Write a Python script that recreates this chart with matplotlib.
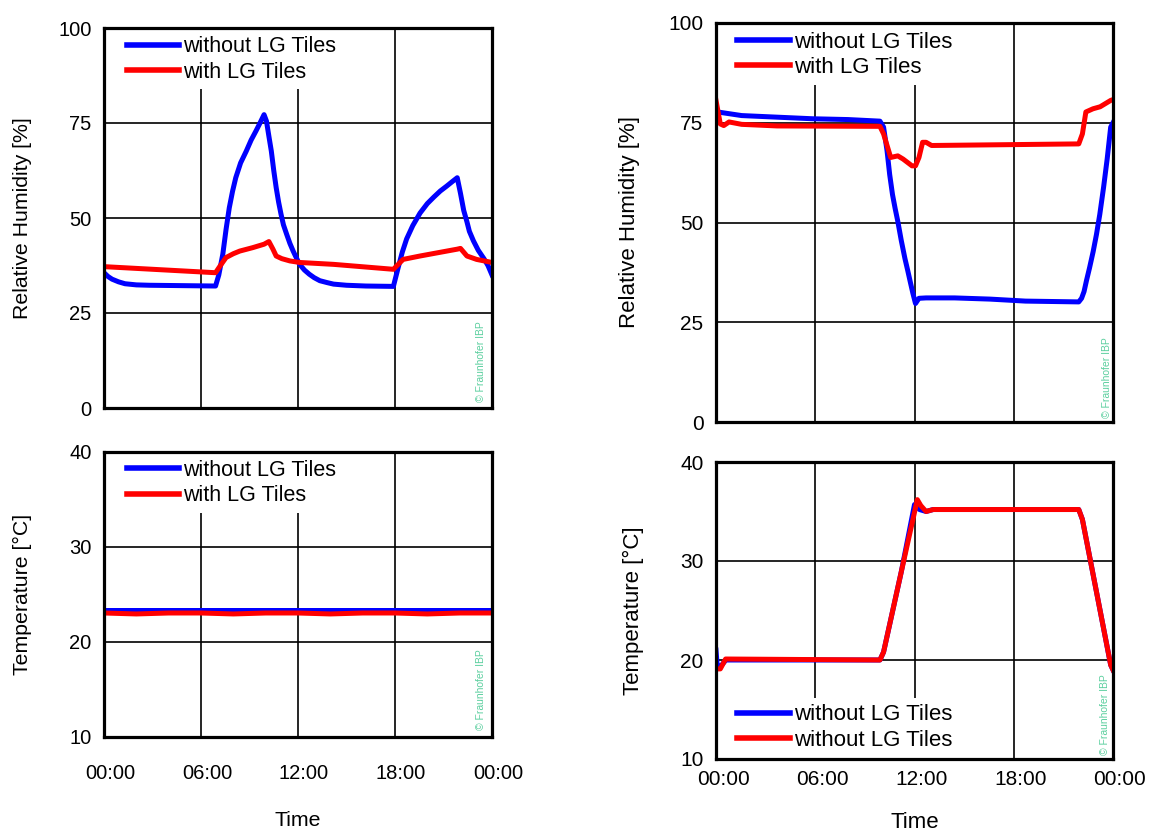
import matplotlib
matplotlib.use("Agg")
import matplotlib.pyplot as plt
from matplotlib.transforms import ScaledTranslation

plt.rcParams['font.family'] = ['Liberation Sans', 'DejaVu Sans']

# ---------------- data (hours of day) ----------------
time_ticks = [0, 6, 12, 18, 24]
time_labels = ["00:00", "06:00", "12:00", "18:00", "00:00"]

# Left: relative humidity
rh_left_without_t = [0, 0.25, 0.5, 0.9, 1.3, 2.0, 2.8, 6.9, 7.1, 7.35, 7.55, 7.75, 7.95, 8.15,
                     8.45, 8.8, 9.1, 9.4, 9.65, 9.9, 10.05, 10.2, 10.35, 10.5, 10.65, 10.8,
                     10.95, 11.1, 11.3, 11.5, 11.7, 11.9, 12.1, 12.4, 12.7, 13.0, 13.35, 13.8,
                     14.2, 15.0, 16.2, 17.9, 18.2, 18.45, 18.72, 19.1, 19.55, 20.0, 20.4, 20.8,
                     21.2, 21.55, 21.85, 22.05, 22.25, 22.45, 22.6, 22.85, 23.15, 23.5, 23.75, 24]
rh_left_without = [35.6, 34.6, 33.9, 33.2, 32.7, 32.4, 32.3, 32.1, 35.0, 40.5, 47.0, 52.7, 57.0, 60.6,
                   64.5, 67.6, 70.5, 72.9, 75.0, 77.2, 75.5, 71.5, 67.6, 62.5, 58.0, 54.2,
                   51.0, 48.2, 45.7, 43.3, 41.3, 39.5, 37.8, 36.3, 35.2, 34.3, 33.5, 33.0,
                   32.6, 32.3, 32.1, 32.0, 37.0, 41.0, 44.5, 48.0, 51.3, 53.8, 55.5, 57.1,
                   58.4, 59.6, 60.6, 56.5, 52.0, 49.0, 46.5, 44.0, 41.5, 39.3, 37.5, 35.0]
rh_left_with_t = [0, 6.9, 7.2, 7.55, 8.0, 8.4, 9.2, 9.9, 10.2, 10.45, 10.65, 11.0, 11.5, 12.1,
                  14.2, 17.9, 18.2, 18.5, 19.55, 21.85, 22.05, 22.25, 22.45, 23.05, 24]
rh_left_with = [37.2, 35.6, 37.5, 39.6, 40.6, 41.3, 42.2, 43.1, 43.8, 41.8, 40.0, 39.3, 38.7, 38.3,
                37.8, 36.5, 37.8, 39.1, 40.0, 41.8, 42.0, 41.0, 40.0, 39.1, 38.3]

# Left: temperature
t_left_without_t = [0, 24]
t_left_without = [23.3, 23.3]
t_left_with_t = [0, 2, 4, 6, 8, 10, 12, 14, 16, 18, 20, 22, 24]
t_left_with = [23.0, 22.9, 23.0, 23.0, 22.9, 23.0, 23.0, 22.9, 23.0, 23.0, 22.9, 23.0, 23.0]

# Right: relative humidity
rh_right_without_t = [0, 0.1, 1.55, 3.69, 5.84, 7.98, 9.91, 10.13, 10.34, 10.5, 10.67, 10.83,
                      10.99, 11.2, 11.42, 11.6, 11.74, 11.9, 12.06, 12.27, 12.7, 14.42, 16.57,
                      18.71, 21.93, 22.1, 22.25, 22.4, 22.58, 22.8, 23.0, 23.2, 23.43, 23.65,
                      23.86, 24]
rh_right_without = [77.5, 77.7, 76.8, 76.4, 76.0, 75.8, 75.4, 73.9, 68.0, 62.0, 57.0, 53.5,
                    50.3, 45.5, 41.0, 37.8, 35.2, 32.3, 29.7, 31.0, 31.1, 31.1, 30.8,
                    30.3, 30.1, 31.0, 32.7, 35.5, 38.6, 42.7, 47.0, 52.0, 58.8, 66.0,
                    73.9, 75.0]
rh_right_with_t = [0, 0.26, 0.47, 0.79, 1.55, 3.69, 9.91, 10.13, 10.56, 10.99, 11.31, 11.85,
                   12.06, 12.27, 12.49, 12.7, 13.03, 21.93, 22.15, 22.36, 22.79, 23.22, 23.86, 24]
rh_right_with = [80.6, 74.7, 74.3, 75.2, 74.6, 74.2, 74.1, 72.2, 66.3, 66.7, 65.9, 64.2,
                 64.2, 66.3, 70.1, 70.1, 69.3, 69.7, 72.2, 77.7, 78.5, 79.0, 80.6, 80.8]

# Right: temperature
t_right_without_t = [0, 0.08, 0.3, 0.6, 9.91, 10.13, 11.2, 12.0, 12.3, 12.7, 13.13, 21.93,
                     22.15, 23.86, 24]
t_right_without = [21.0, 19.3, 19.4, 20.0, 20.0, 20.8, 28.9, 35.7, 35.2, 35.0, 35.2, 35.2,
                   34.2, 19.5, 19.0]
t_right_with_t = [0, 0.26, 0.58, 9.91, 10.13, 11.2, 12.17, 12.38, 12.7, 13.13, 21.93, 22.15,
                  23.86, 24]
t_right_with = [19.1, 19.1, 20.1, 20.0, 20.8, 28.9, 36.2, 35.6, 35.0, 35.2, 35.2, 34.2,
                19.5, 19.0]

rh_ticks = [0, 25, 50, 75, 100]
temp_ticks = [10, 20, 30, 40]

BLUE = "#0000ff"
RED = "#ff0000"
WM = "#5ccf9f"

W, H = 1156, 832
fig = plt.figure(figsize=(W / 100, H / 100), dpi=100)


def axes_px(x0, y0, x1, y1):
    return fig.add_axes([x0 / W, 1 - y1 / H, (x1 - x0) / W, (y1 - y0) / H])


def style(ax, yticks, ylim, ylabel, ylabel_x, fs_tick, fs_label, show_x, xpad=9, xlabel_y=None,
          xshift=6):
    ax.set_xlim(0, 24)
    ax.set_ylim(*ylim)
    ax.set_xticks(time_ticks)
    ax.set_yticks(yticks)
    ax.grid(True, color="black", linewidth=1.2)
    ax.set_axisbelow(True)
    for s in ax.spines.values():
        s.set_linewidth(2.3)
        s.set_color("black")
        s.set_zorder(3)
    ax.tick_params(axis="y", length=0, pad=9, labelsize=fs_tick)
    if show_x:
        ax.set_xticklabels(time_labels)
        ax.tick_params(axis="x", length=0, pad=xpad, labelsize=fs_tick)
        for lab in ax.get_xticklabels():
            lab.set_transform(lab.get_transform() + ScaledTranslation(xshift / 100, 0, fig.dpi_scale_trans))
        ax.set_xlabel("Time", fontsize=fs_label)
        ax.xaxis.set_label_coords(0.5, xlabel_y)
        ax.xaxis.label.set_va("center")
    else:
        ax.tick_params(axis="x", length=0, labelbottom=False)
    ax.set_ylabel(ylabel, fontsize=fs_label)
    ax.yaxis.set_label_coords(ylabel_x, 0.5)
    ax.yaxis.label.set_va("center")


def watermark(ax, dx_px, dy_px):
    ax.text(1, 0, "© Fraunhofer IBP", rotation=90, fontsize=7.5, color=WM,
            ha="center", va="bottom",
            transform=ax.transAxes + ScaledTranslation(-dx_px / 100, dy_px / 100, fig.dpi_scale_trans),
            zorder=4)


def legend(ax, labels, fs, loc, anchor):
    leg = ax.legend(labels, loc=loc, bbox_to_anchor=anchor, fontsize=fs, frameon=True,
                    facecolor="white", edgecolor="none", framealpha=1, borderpad=0.3,
                    borderaxespad=0, labelspacing=0.2, handlelength=2.4, handletextpad=0.2,
                    fancybox=False)
    leg.set_zorder(2.6)
    for h in leg.get_lines():
        h.set_linewidth(4)
    return leg


LW = 3.6

# ---- top-left ----
ax1 = axes_px(104, 28, 492, 408)
ax1.plot(rh_left_without_t, rh_left_without, color=BLUE, lw=LW)
ax1.plot(rh_left_with_t, rh_left_with, color=RED, lw=LW)
style(ax1, rh_ticks, (0, 100), "Relative Humidity [%]", -0.209, 14.5, 15.3, False)
legend(ax1, ["without LG Tiles", "with LG Tiles"], 15.5, "upper left", (0.043, 0.995))
watermark(ax1, 11, 6)

# ---- bottom-left ----
ax2 = axes_px(104, 451.5, 492, 736.5)
ax2.plot(t_left_without_t, t_left_without, color=BLUE, lw=LW)
ax2.plot(t_left_with_t, t_left_with, color=RED, lw=LW)
style(ax2, temp_ticks, (10, 40), "Temperature [°C]", -0.209, 14.5, 15.3, True, xpad=20,
      xlabel_y=-(820 - 736.5) / 285, xshift=6)
legend(ax2, ["without LG Tiles", "with LG Tiles"], 15.5, "upper left", (0.043, 0.993))
watermark(ax2, 11, 6)

# ---- top-right ----
ax3 = axes_px(716, 23, 1113, 422)
ax3.plot(rh_right_without_t, rh_right_without, color=BLUE, lw=LW)
ax3.plot(rh_right_with_t, rh_right_with, color=RED, lw=LW)
style(ax3, rh_ticks, (0, 100), "Relative Humidity [%]", -0.217, 15, 16, False)
legend(ax3, ["without LG Tiles", "with LG Tiles"], 16, "upper left", (0.035, 0.995))
watermark(ax3, 6, 4)

# ---- bottom-right ----
ax4 = axes_px(716, 462, 1113, 759)
ax4.plot(t_right_without_t, t_right_without, color=BLUE, lw=LW)
ax4.plot(t_right_with_t, t_right_with, color=RED, lw=LW)
style(ax4, temp_ticks, (10, 40), "Temperature [°C]", -0.207, 15, 16, True, xpad=8,
      xlabel_y=-(823 - 759) / 297, xshift=7)
legend(ax4, ["without LG Tiles", "without LG Tiles"], 16, "lower left", (0.035, 0.005))
watermark(ax4, 8, 4)

fig.savefig("out.png", dpi=100, facecolor="white")
